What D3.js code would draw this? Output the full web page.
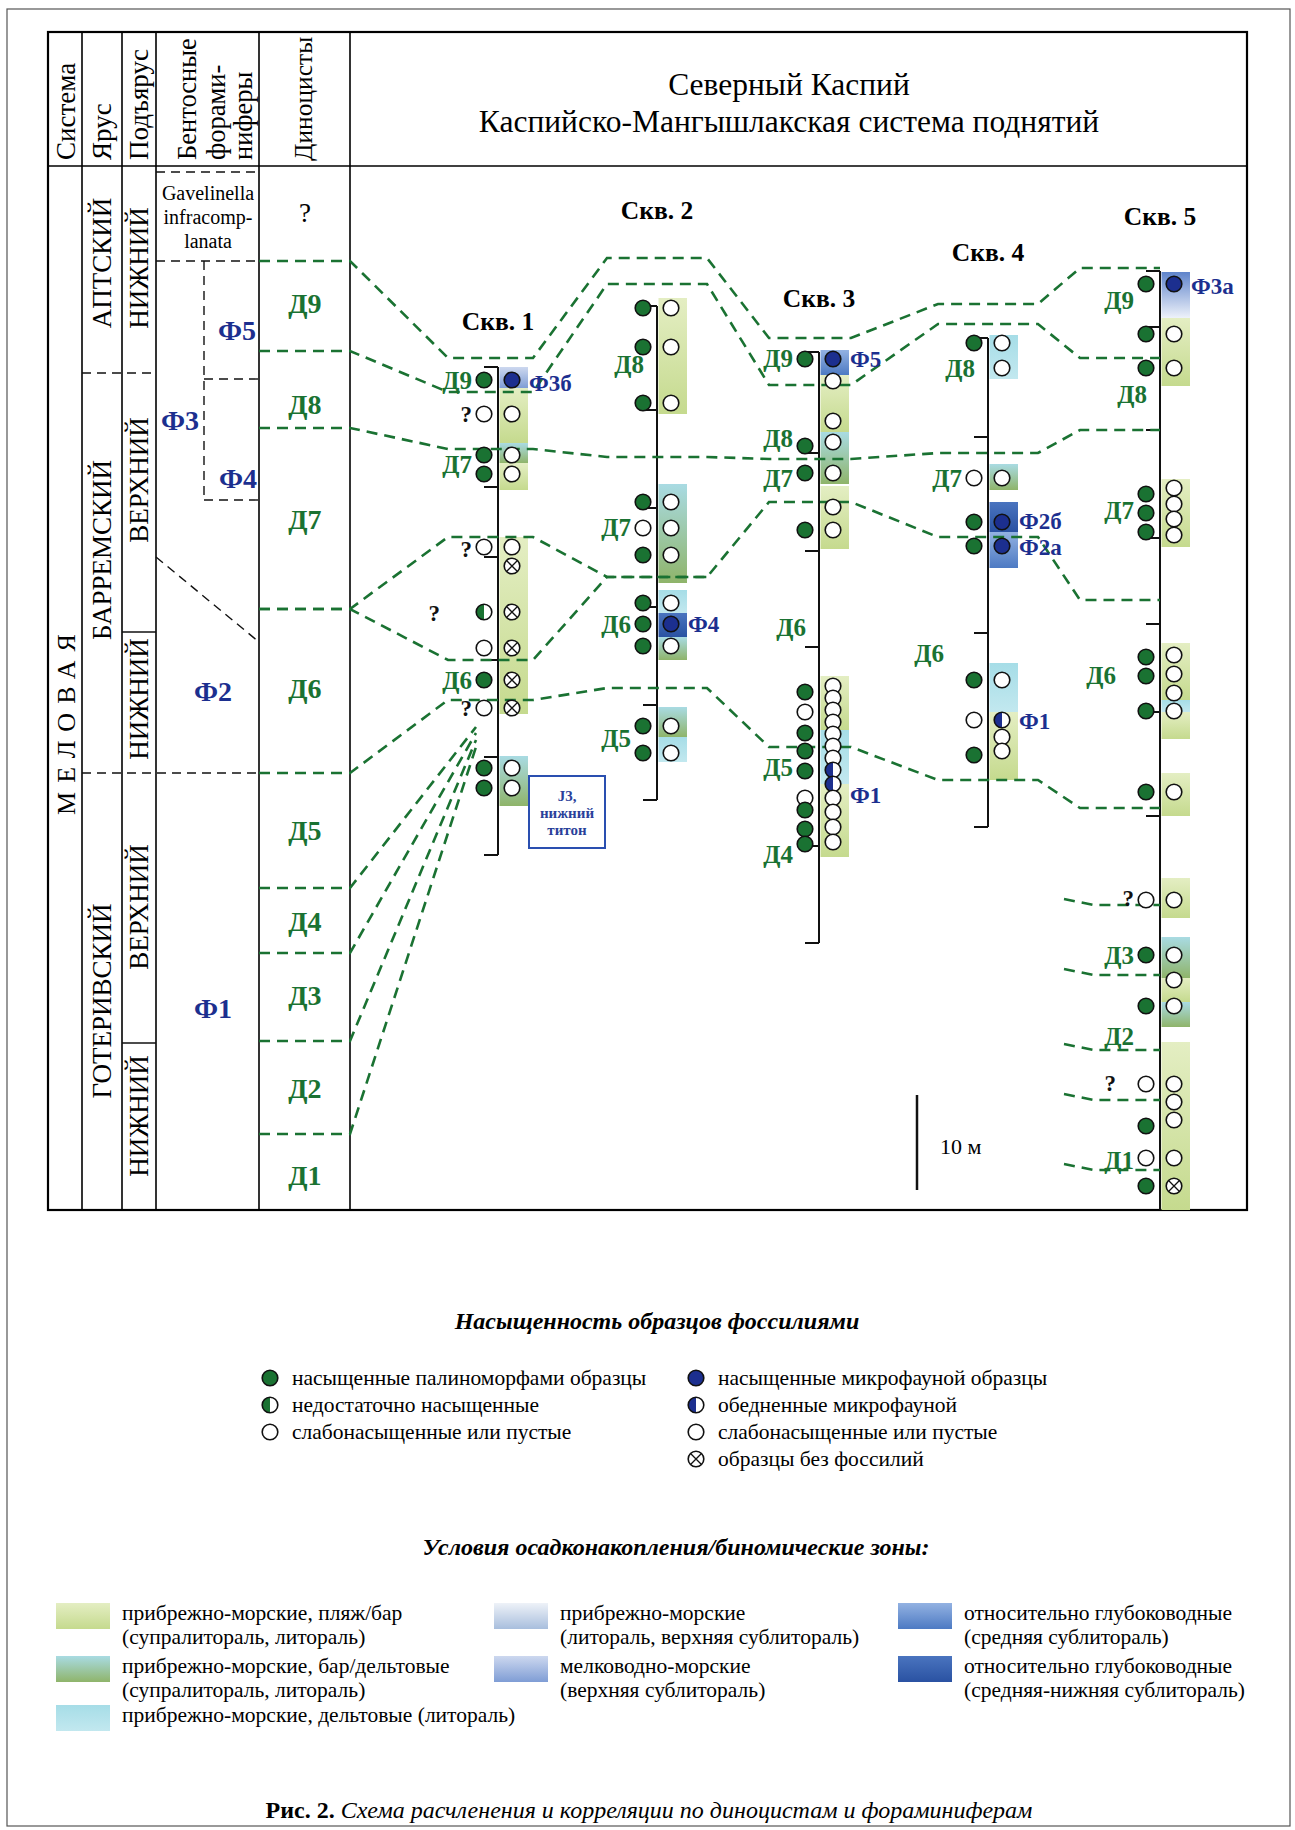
<!DOCTYPE html>
<html>
<head>
<meta charset="utf-8">
<script src="https://cdn.jsdelivr.net/npm/d3@7"></script>
<style>
  body { margin: 0; background: #fff; }
  svg { display: block; }
  text { font-family: "Liberation Serif", "Times New Roman", serif; }
</style>
</head>
<body>
<div id="chart"></div>
<script>
const width = 1295, height = 1830;

const wells = ['Скв. 1', 'Скв. 2', 'Скв. 3', 'Скв. 4', 'Скв. 5'];
const wellLabelLevels = [321, 210, 298, 252, 216];
const wellTop = [367, 306, 352, 338, 271];
const wellBase = [855, 800, 943, 827, 1210];
const wellTicks = [
  [367, 487, 557, 660, 757, 855],
  [306, 410, 508, 607, 705, 800],
  [352, 453, 551, 647, 846, 943],
  [338, 437, 633, 827],
  [271, 327, 430, 538, 624, 712, 816]
];

// samples: [level, column (L palynology / R microfauna), kind]
const samples1 = [[380,'L','g'],[380,'R','b'],[414,'L','o'],[414,'R','o'],[455,'L','g'],[455,'R','o'],
  [474,'L','g'],[474,'R','o'],[547,'L','o'],[547,'R','o'],[566,'R','x'],[612,'L','gh'],[612,'R','x'],
  [648,'L','o'],[648,'R','x'],[680,'L','g'],[680,'R','x'],[708,'L','o'],[708,'R','x'],
  [768,'L','g'],[768,'R','o'],[788,'L','g'],[788,'R','o']];
const samples2 = [[308,'L','g'],[308,'R','o'],[347,'L','g'],[347,'R','o'],[403,'L','g'],[403,'R','o'],
  [502,'L','g'],[502,'R','o'],[528,'L','o'],[528,'R','o'],[555,'L','g'],[555,'R','o'],
  [603,'L','g'],[603,'R','o'],[624,'L','g'],[624,'R','b'],[646,'L','g'],[646,'R','o'],
  [726,'L','g'],[726,'R','o'],[753,'L','g'],[753,'R','o']];
const samples3 = [[359,'L','g'],[359,'R','b'],[381,'R','o'],[421,'R','o'],[442,'R','o'],[446,'L','g'],
  [473,'L','g'],[473,'R','o'],[507,'R','o'],[530,'L','g'],[530,'R','o'],
  [686,'R','o'],[698,'R','o'],[710,'R','o'],[722,'R','o'],[734,'R','o'],[746,'R','o'],[758,'R','o'],
  [770,'R','bh'],[784,'R','bh'],[798,'R','o'],[812,'R','o'],[827,'R','o'],[842,'R','o'],
  [692,'L','g'],[712,'L','o'],[733,'L','g'],[751,'L','g'],[771,'L','g'],[798,'L','o'],[810,'L','g'],
  [829,'L','g'],[844,'L','g']];
const samples4 = [[343,'L','g'],[343,'R','o'],[368,'R','o'],[478,'L','o'],[478,'R','o'],
  [522,'L','g'],[522,'R','b'],[546,'L','g'],[546,'R','b'],[680,'L','g'],[680,'R','o'],
  [720,'L','o'],[720,'R','bh'],[737,'R','o'],[751,'R','o'],[755,'L','g']];
const samples5 = [[284,'L','g'],[284,'R','b'],[334,'L','g'],[334,'R','o'],[368,'L','g'],[368,'R','o'],
  [488,'R','o'],[504,'R','o'],[519,'R','o'],[535,'R','o'],[494,'L','g'],[513,'L','g'],[532,'L','g'],
  [655,'R','o'],[674,'R','o'],[693,'R','o'],[711,'R','o'],[657,'L','g'],[676,'L','g'],[711,'L','g'],
  [792,'L','g'],[792,'R','o'],[900,'L','o'],[900,'R','o'],
  [955,'L','g'],[955,'R','o'],[980,'R','o'],[1006,'L','g'],[1006,'R','o'],
  [1084,'L','o'],[1084,'R','o'],[1102,'R','o'],[1120,'R','o'],[1126,'L','g'],
  [1158,'L','o'],[1158,'R','o'],[1186,'L','g'],[1186,'R','x']];

// sedimentary settings: [top, base, facies]
const boxes1 = [[367,388,'shallow'],[388,443,'beach'],[443,463,'bardelta'],[463,490,'beach'],
  [537,714,'beach'],[756,806,'bardelta']];
const boxes2 = [[298,414,'beach'],[484,583,'bardelta'],[590,613,'delta'],[613,637,'deep2'],
  [637,660,'bardelta'],[707,737,'bardelta'],[737,762,'delta']];
const boxes3 = [[350,375,'deep1'],[375,432,'beach'],[432,484,'bardelta'],[486,549,'beach'],
  [676,730,'beach'],[730,784,'delta'],[784,857,'beach']];
const boxes4 = [[335,379,'delta'],[464,490,'bardelta'],[502,532,'deep2'],[532,568,'deep1'],
  [663,712,'delta'],[712,780,'beach']];
const boxes5 = [[272,318,'blueFade'],[318,386,'beach'],[479,547,'beach'],[643,700,'beach'],
  [700,712,'delta'],[712,739,'beach'],[773,816,'beach'],[878,918,'beach'],[937,978,'bardelta'],
  [978,1002,'beach'],[1002,1027,'bardelta'],[1042,1210,'beach']];

// labels: [level, text, placement]
const labels1 = [[380,'Д9','L'],[414,'?','L'],[464,'Д7','L'],[549,'?','L'],[613,'?','Lx'],
  [680,'Д6','L'],[708,'?','L'],[383,'Ф3б','R']];
const labels2 = [[364,'Д8','Ln'],[527,'Д7','L'],[624,'Д6','L'],[738,'Д5','L'],[624,'Ф4','R']];
const labels3 = [[358,'Д9','L'],[438,'Д8','L'],[478,'Д7','L'],[627,'Д6','Ln'],[767,'Д5','L'],
  [854,'Д4','L'],[359,'Ф5','R'],[795,'Ф1','R']];
const labels4 = [[368,'Д8','Ln'],[478,'Д7','L'],[653,'Д6','Lf'],[521,'Ф2б','R'],[547,'Ф2а','R'],
  [721,'Ф1','R']];
const labels5 = [[300,'Д9','L'],[394,'Д8','Ln'],[510,'Д7','L'],[675,'Д6','Lf'],[898,'?','L'],
  [955,'Д3','L'],[1036,'Д2','L'],[1083,'?','Lf'],[1160,'Д1','L'],[286,'Ф3а','R']];

// correlation lines: level at [Диноцисты, Скв.1 … Скв.5]
const lineD9 = [261, 358, 258, 338, 304, 268];
const lineD8 = [351, 392, 284, 385, 324, 358];
const lineD7 = [428, 449, 457, 459, 453, 430];
const lineD6a = [609, 537, 577, 502, 537, 600];
const lineD6b = [609, 660, 577, null, null, null];
const lineD5 = [773, 700, 688, 747, 780, 808];
// lower boundaries pinching out towards Скв. 1: [Диноцисты, Скв.1]
const lineD4 = [888, 727];
const lineD3 = [953, 733];
const lineD2 = [1041, 740];
const lineD1 = [1134, 747];
// short boundaries at Скв. 5
const stubs5 = [905, 975, 1050, 1100, 1170];

// stratigraphic columns
const stageNames = ['АПТСКИЙ', 'БАРРЕМСКИЙ', 'ГОТЕРИВСКИЙ'];
const stageLevels = [263, 550, 1001];
const substageNames = ['НИЖНИЙ', 'ВЕРХНИЙ', 'НИЖНИЙ', 'ВЕРХНИЙ', 'НИЖНИЙ'];
const substageLevels = [268, 480, 699, 907, 1116];
const foramNames = ['Ф5', 'Ф4', 'Ф3', 'Ф2', 'Ф1'];
const foramLevels = [330, 478, 420, 691, 1008];
const dinoNames = ['?', 'Д9', 'Д8', 'Д7', 'Д6', 'Д5', 'Д4', 'Д3', 'Д2', 'Д1'];
const dinoLevels = [213, 303, 404, 519, 688, 830, 921, 995, 1088, 1175];

// legends
const satLeft = [['g', 'насыщенные палиноморфами образцы'], ['gh', 'недостаточно насыщенные'],
  ['o', 'слабонасыщенные или пустые']];
const satRight = [['b', 'насыщенные микрофауной образцы'], ['bh', 'обедненные микрофауной'],
  ['o', 'слабонасыщенные или пустые'], ['x', 'образцы без фоссилий']];
const faciesKeys = [
  ['beach', 'прибрежно-морские, пляж/бар', '(супралитораль, литораль)'],
  ['bardelta', 'прибрежно-морские, бар/дельтовые', '(супралитораль, литораль)'],
  ['delta', 'прибрежно-морские, дельтовые (литораль)', ''],
  ['littoral', 'прибрежно-морские', '(литораль, верхняя сублитораль)'],
  ['shallow', 'мелководно-морские', '(верхняя сублитораль)'],
  ['deep1', 'относительно глубоководные', '(средняя сублитораль)'],
  ['deep2', ' относительно глубоководные', '(средняя-нижняя сублитораль)']
];

// ---- styles ----
const green = '#1a7232', blue = '#1c2f8f';
const facies = {
  beach: ['#e4eec3', '#c5da8e'],
  bardelta: ['#a9dbe3', '#8fb46a'],
  delta: ['#a6dde7', '#c2e8ef'],
  littoral: ['#eef2f8', '#a8bedd'],
  shallow: ['#cdd8ef', '#7f9dd5'],
  deep1: ['#93b2e2', '#4d7ac3'],
  deep2: ['#4a74bf', '#2a52a2'],
  blueFade: ['#5f84cb', '#eef2fa']
};
const labelDx = {L: -26, Ln: -13, Lf: -44, Lx: -58, R: 31};
const spanL = [-50, -50, -50, -50, -80], spanR = [35, 50, 32, 50, 0];
const R = 7.8;

const svg = d3.select('#chart').append('svg')
  .attr('width', width).attr('height', height);
const defs = svg.append('defs');
Object.entries(facies).forEach(([k, c]) => {
  const g = defs.append('linearGradient').attr('id', 'f-' + k)
    .attr('x1', 0).attr('y1', 0).attr('x2', 0).attr('y2', 1);
  g.append('stop').attr('offset', '0%').attr('stop-color', c[0]);
  g.append('stop').attr('offset', '100%').attr('stop-color', c[1]);
});

const y = d3.scaleLinear().domain([0, height]).range([0, height]);
const x = d3.scaleOrdinal().domain(wells).range([498, 657, 819, 988, 1160]);
const cols = [48, 82, 122, 156, 259, 350, 1247];
const tableTop = 32, headLine = 166, tableBottom = 1210;

// outer sheet border
svg.append('rect').attr('x', 7).attr('y', 9).attr('width', 1283).attr('height', 1817)
  .attr('fill', 'none').attr('stroke', '#555').attr('stroke-width', 1.2);

// ---- table frame ----
const frame = svg.append('g');
cols.slice(1, 6).forEach(cx => frame.append('line')
  .attr('x1', cx).attr('x2', cx).attr('y1', tableTop).attr('y2', tableBottom)
  .attr('stroke', '#000').attr('stroke-width', 1.6));
frame.append('line').attr('x1', cols[0]).attr('x2', cols[6]).attr('y1', y(headLine)).attr('y2', y(headLine))
  .attr('stroke', '#000').attr('stroke-width', 1.6);
frame.append('rect').attr('x', cols[0]).attr('y', tableTop).attr('width', cols[6] - cols[0])
  .attr('height', tableBottom - tableTop).attr('fill', 'none').attr('stroke', '#000').attr('stroke-width', 2.2);

function rotText(cx, cy, txt, opts) {
  const t = svg.append('text')
    .attr('transform', `translate(${cx},${cy}) rotate(-90)`)
    .attr('text-anchor', opts.anchor || 'middle')
    .attr('dominant-baseline', 'central')
    .attr('font-size', opts.size || 26)
    .attr('fill', opts.fill || '#000')
    .text(txt);
  if (opts.spacing) t.attr('letter-spacing', opts.spacing);
  return t;
}

// header
rotText(66, 160, 'Система', {anchor: 'start', size: 27});
rotText(102, 160, 'Ярус', {anchor: 'start', size: 27});
rotText(139, 160, 'Подъярус', {anchor: 'start', size: 27});
['Бентосные', 'форами-', 'ниферы'].forEach((s, i) =>
  rotText([187, 216, 243][i], 160, s, {anchor: 'start', size: 26.5}));
rotText(303, 161, 'Диноцисты', {anchor: 'start', size: 25.5});

const title = svg.append('text').attr('text-anchor', 'middle').attr('font-size', 31.5);
title.append('tspan').attr('x', 789).attr('y', 95).text('Северный Каспий');
title.append('tspan').attr('x', 789).attr('y', 132).text('Каспийско-Мангышлакская система поднятий');

// system / stages / substages
rotText(66, y(720), 'МЕЛОВАЯ', {size: 26, spacing: 9});
stageNames.forEach((s, i) => rotText(102, y(stageLevels[i]), s, {size: 27}));
substageNames.forEach((s, i) => rotText(139, y(substageLevels[i]), s, {size: 27}));

const dash = (x1, y1, x2, y2, solid) => svg.append('line')
  .attr('x1', x1).attr('y1', y1).attr('x2', x2).attr('y2', y2)
  .attr('stroke', '#111').attr('stroke-width', 1.4)
  .attr('stroke-dasharray', solid ? null : '9 6');
dash(cols[1], y(373), cols[3], y(373));
dash(cols[2], y(632), cols[3], y(632), true);
dash(cols[1], y(773), cols[4], y(773));
dash(cols[2], y(1043), cols[3], y(1043), true);
// benthic foraminifera zones
dash(cols[3], y(172), cols[4], y(172));
dash(cols[3], y(261), cols[4], y(261));
dash(204, y(261), 204, y(500));
dash(204, y(379), cols[4], y(379));
dash(204, y(500), cols[4], y(500));
dash(cols[3], y(557), cols[4], y(642));

const gav = svg.append('text').attr('text-anchor', 'middle').attr('font-size', 20);
['Gavelinella', 'infracomp-', 'lanata'].forEach((s, i) =>
  gav.append('tspan').attr('x', 208).attr('y', y([193, 217, 241][i]) + 7).text(s));

const foramX = [237, 238, 180, 213, 213];
foramNames.forEach((s, i) => svg.append('text')
  .attr('x', foramX[i]).attr('y', y(foramLevels[i])).attr('dominant-baseline', 'central')
  .attr('text-anchor', 'middle').attr('font-size', 28).attr('font-weight', 'bold')
  .attr('fill', blue).text(s));
dinoNames.forEach((s, i) => svg.append('text')
  .attr('x', 305).attr('y', y(dinoLevels[i])).attr('dominant-baseline', 'central')
  .attr('text-anchor', 'middle').attr('font-size', s === '?' ? 27 : 28)
  .attr('font-weight', s === '?' ? 'normal' : 'bold')
  .attr('fill', s === '?' ? '#000' : green).text(s));

// ---- wells ----
const wellSamples = [samples1, samples2, samples3, samples4, samples5];
const wellBoxes = [boxes1, boxes2, boxes3, boxes4, boxes5];
const wellLabels = [labels1, labels2, labels3, labels4, labels5];

const boxLayer = svg.append('g');
const axisLayer = svg.append('g');
const lineLayer = svg.append('g');
const dotLayer = svg.append('g');
const textLayer = svg.append('g');

wells.forEach((w, i) => {
  const cx = x(w);
  boxLayer.selectAll(null).data(wellBoxes[i]).join('rect')
    .attr('x', cx + 1.5).attr('width', 28.5)
    .attr('y', d => y(d[0])).attr('height', d => y(d[1]) - y(d[0]))
    .attr('fill', d => `url(#f-${d[2]})`);
  axisLayer.append('line').attr('x1', cx).attr('x2', cx)
    .attr('y1', y(wellTop[i])).attr('y2', y(wellBase[i]))
    .attr('stroke', '#111').attr('stroke-width', 2);
  axisLayer.selectAll(null).data(wellTicks[i]).join('line')
    .attr('x1', cx - 14).attr('x2', cx).attr('y1', d => y(d)).attr('y2', d => y(d))
    .attr('stroke', '#111').attr('stroke-width', 2);
  textLayer.append('text').attr('x', cx).attr('y', y(wellLabelLevels[i]))
    .attr('dominant-baseline', 'central').attr('text-anchor', 'middle')
    .attr('font-size', 25.5).attr('font-weight', 'bold').text(w);
  wellLabels[i].forEach(d => {
    const isF = d[2] === 'R', isQ = d[1] === '?';
    textLayer.append('text').attr('x', cx + labelDx[d[2]]).attr('y', y(d[0]))
      .attr('dominant-baseline', 'central').attr('text-anchor', isF ? 'start' : 'end')
      .attr('font-size', isF ? 23 : (isQ ? 23 : 25)).attr('font-weight', 'bold')
      .attr('fill', isF ? blue : (isQ ? '#111' : green)).text(d[1]);
  });
});

// J3 box next to Скв. 1
const jx = x(wells[0]) + 31;
textLayer.append('rect').attr('x', jx).attr('y', y(776)).attr('width', 76)
  .attr('height', y(848) - y(776)).attr('fill', '#fff').attr('stroke', '#2a4fb0').attr('stroke-width', 2);
['J3,', 'нижний', 'титон'].forEach((s, i) => textLayer.append('text')
  .attr('x', jx + 38).attr('y', y([796, 813, 830][i])).attr('dominant-baseline', 'central')
  .attr('text-anchor', 'middle').attr('font-size', 15).attr('font-weight', 'bold')
  .attr('fill', '#2a3f9a').text(s));

// ---- correlation lines ----
const greenDash = sel => sel.attr('fill', 'none').attr('stroke', green)
  .attr('stroke-width', 2.6).attr('stroke-dasharray', '11 7');
const lineGen = d3.line();
function corrPoints(levels) {
  const pts = [];
  levels.forEach((lv, i) => {
    if (lv == null) return;
    if (i === 0) pts.push([cols[4], y(lv)], [cols[5], y(lv)]);
    else {
      const cx = x(wells[i - 1]);
      pts.push([cx + spanL[i - 1], y(lv)], [cx + spanR[i - 1], y(lv)]);
    }
  });
  return pts;
}
[lineD9, lineD8, lineD7, lineD6a, lineD6b, lineD5].forEach(l =>
  lineLayer.append('path').attr('d', lineGen(corrPoints(l))).call(greenDash));
[lineD4, lineD3, lineD2, lineD1].forEach(l =>
  lineLayer.append('path').attr('d', lineGen([[cols[4], y(l[0])], [cols[5], y(l[0])],
    [x(wells[0]) - 22, y(l[1])]])).call(greenDash));
stubs5.forEach(lv => {
  const cx = x(wells[4]);
  lineLayer.append('path').attr('d', lineGen([[cx - 96, y(lv - 6)], [cx - 66, y(lv)], [cx, y(lv)]]))
    .call(greenDash);
});

// ---- samples ----
function drawSample(g, cx, cy, kind) {
  const fill = kind === 'g' ? green : kind === 'b' ? blue : '#fff';
  g.append('circle').attr('cx', cx).attr('cy', cy).attr('r', R).attr('fill', fill);
  if (kind === 'gh' || kind === 'bh') {
    g.append('path')
      .attr('d', `M${cx},${cy - R}A${R},${R} 0 0 0 ${cx},${cy + R}Z`)
      .attr('fill', kind === 'gh' ? green : blue);
  }
  if (kind === 'x') {
    const k = R * 0.7;
    g.append('path').attr('d', `M${cx - k},${cy - k}L${cx + k},${cy + k}M${cx + k},${cy - k}L${cx - k},${cy + k}`)
      .attr('stroke', '#111').attr('stroke-width', 1.3);
  }
  g.append('circle').attr('cx', cx).attr('cy', cy).attr('r', R)
    .attr('fill', 'none').attr('stroke', '#111').attr('stroke-width', 1.6);
}
wells.forEach((w, i) => {
  wellSamples[i].forEach(d => drawSample(dotLayer, x(w) + (d[1] === 'L' ? -14 : 14), y(d[0]), d[2]));
});

// scale bar
svg.append('line').attr('x1', 917).attr('x2', 917).attr('y1', y(1095)).attr('y2', y(1190))
  .attr('stroke', '#111').attr('stroke-width', 2.5);
svg.append('text').attr('x', 940).attr('y', y(1146)).attr('dominant-baseline', 'central')
  .attr('font-size', 22).text('10 м');

// ---- legends ----
svg.append('text').attr('x', 657).attr('y', 1321).attr('dominant-baseline', 'central')
  .attr('text-anchor', 'middle').attr('font-size', 24).attr('font-weight', 'bold')
  .attr('font-style', 'italic').text('Насыщенность образцов фоссилиями');
[[satLeft, 270], [satRight, 696]].forEach(([rows, lx]) => rows.forEach((d, i) => {
  const ly = 1378 + i * 27;
  drawSample(svg, lx, ly, d[0]);
  svg.append('text').attr('x', lx + 22).attr('y', ly).attr('dominant-baseline', 'central')
    .attr('font-size', 21.5).text(d[1]);
}));

svg.append('text').attr('x', 676).attr('y', 1547).attr('dominant-baseline', 'central')
  .attr('text-anchor', 'middle').attr('font-size', 24).attr('font-weight', 'bold')
  .attr('font-style', 'italic').text('Условия осадконакопления/биномические зоны:');
const keyCol = [56, 56, 56, 494, 494, 898, 898];
const keyRow = [0, 1, 2, 0, 1, 0, 1];
const rowTop = [1603, 1656, 1705];
faciesKeys.forEach((d, i) => {
  const kx = keyCol[i], ky = rowTop[keyRow[i]];
  svg.append('rect').attr('x', kx).attr('y', ky).attr('width', 54).attr('height', 26)
    .attr('fill', `url(#f-${d[0]})`);
  const t = svg.append('text').attr('font-size', 21.5);
  t.append('tspan').attr('x', kx + 66).attr('y', ky + 17).text(d[1]);
  if (d[2]) t.append('tspan').attr('x', kx + 66).attr('y', ky + 41).text(d[2]);
});

// caption
const cap = svg.append('text').attr('x', 649).attr('y', 1818).attr('text-anchor', 'middle')
  .attr('font-size', 24);
cap.append('tspan').attr('font-weight', 'bold').text('Рис. 2. ');
cap.append('tspan').attr('font-style', 'italic')
  .text('Схема расчленения и корреляции по диноцистам и фораминиферам');
</script>
</body>
</html>
